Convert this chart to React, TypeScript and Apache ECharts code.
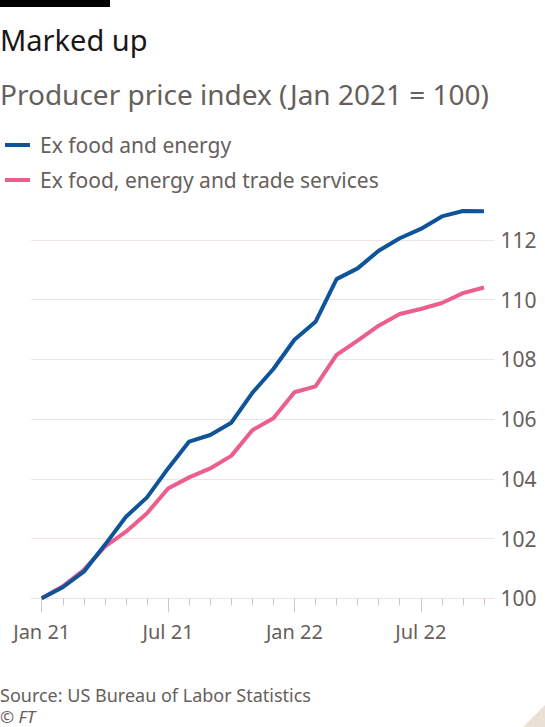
import React, { useEffect, useRef } from "react";
import * as echarts from "echarts";

const months = [
  "Jan 21", "Feb 21", "Mar 21", "Apr 21", "May 21", "Jun 21",
  "Jul 21", "Aug 21", "Sep 21", "Oct 21", "Nov 21", "Dec 21",
  "Jan 22", "Feb 22", "Mar 22", "Apr 22", "May 22", "Jun 22",
  "Jul 22", "Aug 22", "Sep 22", "Oct 22",
];

const exFoodEnergy = [
  100.0, 100.37, 100.89, 101.79, 102.73, 103.38, 104.35, 105.25, 105.47, 105.88, 106.88,
  107.68, 108.66, 109.26, 110.69, 111.05, 111.64, 112.06, 112.37, 112.79, 112.97, 112.96,
];

const exFoodEnergyTrade = [
  100.0, 100.4, 100.95, 101.73, 102.23, 102.85, 103.68, 104.05, 104.35, 104.77, 105.63,
  106.03, 106.9, 107.1, 108.15, 108.63, 109.13, 109.52, 109.69, 109.89, 110.22, 110.41,
];

const seriesNames = ["Ex food and energy", "Ex food, energy and trade services"];
const yMin = 100;
const yMax = 112;
const yStep = 2;

const FONT = "'Noto Sans', sans-serif";
const BLUE = "#0f5499";
const PINK = "#eb5e8d";
const GREY = "#66605c";
const GRID = "#efe4e0";
const TICK = "#cfc6bf";

export default function App() {
  const ref = useRef<HTMLDivElement>(null);

  useEffect(() => {
    if (!ref.current) return;
    const chart = echarts.init(ref.current, null, { renderer: "svg" });
    const isMajor = (i: number) => i % 6 === 0;
    chart.setOption({
      animation: false,
      backgroundColor: "#ffffff",
      textStyle: { fontFamily: FONT },
      graphic: [
        { type: "rect", left: 0, top: 0, shape: { width: 110, height: 7 }, style: { fill: "#000000" } },
        {
          type: "text", left: 0, top: 25,
          style: { text: "Marked up", font: `29px ${FONT}`, fill: "#1a1817" },
        },
        {
          type: "text", left: 0, top: 80,
          style: { text: "Producer price index (Jan 2021 = 100)", font: `28px ${FONT}`, fill: GREY },
        },
        {
          type: "text", left: 0, top: 686,
          style: { text: "Source: US Bureau of Labor Statistics", font: `18px ${FONT}`, fill: GREY },
        },
        {
          type: "text", left: 0, top: 708,
          style: { text: "© FT", font: `italic 17px ${FONT}`, fill: GREY },
        },
        {
          type: "polygon",
          shape: { points: [[545, 705], [545, 727], [523, 727]] },
          style: { fill: "#ebe0d5" },
        },
      ],
      legend: {
        data: seriesNames,
        orient: "vertical",
        left: 0,
        top: 128,
        icon: "rect",
        itemWidth: 25,
        itemHeight: 4,
        itemGap: 11,
        textStyle: { fontFamily: FONT, fontSize: 21, color: GREY, lineHeight: 24, padding: [0, 0, 0, 5] },
      },
      grid: { left: 31.2, right: 50.5, top: 240, bottom: 128.7, containLabel: false },
      xAxis: [
        {
          type: "category",
          data: months,
          position: "bottom",
          boundaryGap: true,
          axisLine: { show: true, lineStyle: { color: GRID, width: 1 } },
          axisTick: { show: true, alignWithLabel: true, interval: 0, length: 7, lineStyle: { color: TICK } },
          axisLabel: { show: false },
          splitLine: { show: false },
        },
        {
          type: "category",
          data: months,
          position: "bottom",
          boundaryGap: true,
          axisLine: { show: false },
          axisTick: {
            show: true, alignWithLabel: true, length: 14,
            interval: (i: number) => isMajor(i),
            lineStyle: { color: TICK },
          },
          axisLabel: {
            interval: (i: number) => isMajor(i),
            margin: 23,
            fontSize: 20,
            fontFamily: FONT,
            color: GREY,
          },
          splitLine: { show: false },
        },
      ],
      yAxis: {
        type: "value",
        position: "right",
        min: yMin,
        max: yMax,
        interval: yStep,
        axisLine: { show: false },
        axisTick: { show: false },
        axisLabel: { margin: 6, fontSize: 21, fontFamily: FONT, color: GREY },
        splitLine: { show: true, lineStyle: { color: GRID, width: 1 } },
      },
      series: [
        {
          name: seriesNames[1],
          type: "line",
          xAxisIndex: 0,
          data: exFoodEnergyTrade,
          showSymbol: false,
          clip: false,
          color: PINK,
          lineStyle: { width: 4, color: PINK },
        },
        {
          name: seriesNames[0],
          type: "line",
          xAxisIndex: 0,
          data: exFoodEnergy,
          showSymbol: false,
          clip: false,
          color: BLUE,
          lineStyle: { width: 4, color: BLUE },
        },
      ],
    });
    return () => chart.dispose();
  }, []);

  return (
    <div
      ref={ref}
      style={{ position: "fixed", left: 0, top: 0, width: 545, height: 727, background: "#fff" }}
    />
  );
}
